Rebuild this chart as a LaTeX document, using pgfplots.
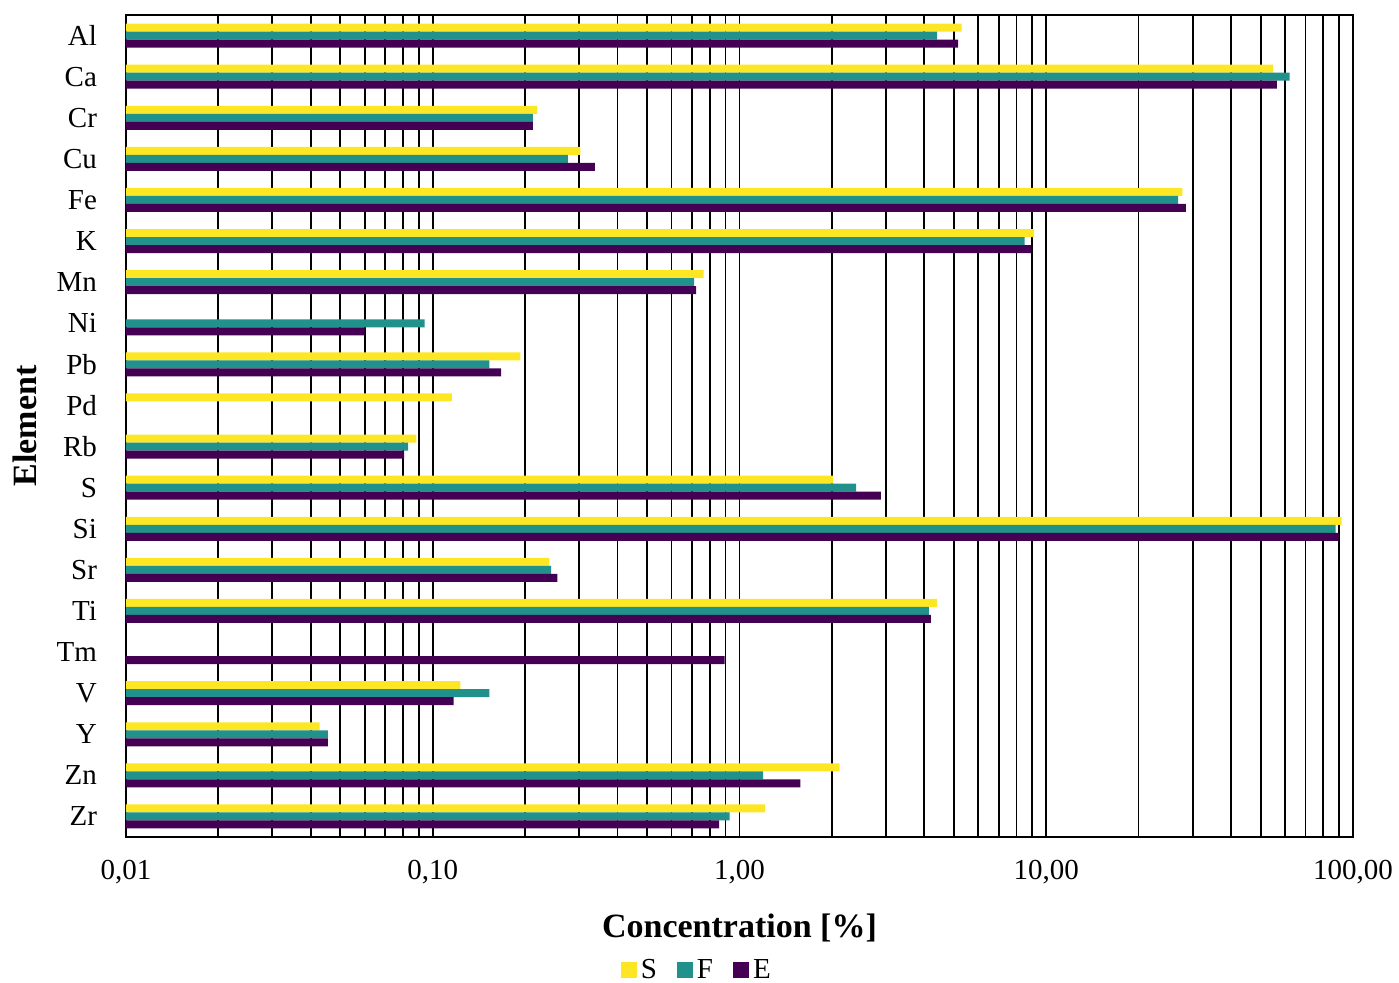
\documentclass[border=0pt]{standalone}
\usepackage{pgfplots}
\usepackage{pgfplotstable}
\usepackage{fontspec}
\setmainfont{Liberation Serif}
\pgfplotsset{compat=1.18}
\definecolor{cS}{HTML}{FDE725}
\definecolor{cF}{HTML}{21918C}
\definecolor{cE}{HTML}{440154}
\pgfplotstableread{
y S F E
0 5.30 4.41 5.16
1 54.9 62.1 56.5
2 0.219 0.212 0.212
3 0.303 0.276 0.338
4 27.8 26.9 28.5
5 9.13 8.51 8.94
6 0.764 0.712 0.722
7 nan 0.0941 0.060
8 0.193 0.153 0.167
9 0.1154 nan nan
10 0.0885 0.0831 0.0806
11 2.02 2.40 2.89
12 91.8 87.7 89.8
13 0.240 0.243 0.255
14 4.41 4.14 4.21
15 nan nan 0.895
16 0.123 0.153 0.117
17 0.0428 0.0455 0.0455
18 2.12 1.193 1.58
19 1.209 0.928 0.859
}\data
\begin{document}
\begin{tikzpicture}
\begin{axis}[
  name=ax,
  width=613.5pt, height=411pt, scale only axis,
  xmode=log, log origin=infty,
  xmin=0.01, xmax=100, ymin=-0.5, ymax=19.5, y dir=reverse,
  xbar=0pt, bar width=4pt,
  axis line style={black, line width=0.9pt},
  ytick={0,...,19},
  yticklabels={Al,Ca,Cr,Cu,Fe,K,Mn,Ni,Pb,Pd,Rb,S,Si,Sr,Ti,Tm,V,Y,Zn,Zr},
  xtick={0.01,0.1,1,10,100},
  xticklabels={{0,01},{0,10},{1,00},{10,00},{100,00}},
  minor xtick={0.02,0.03,0.04,0.05,0.06,0.07,0.08,0.09,0.2,0.3,0.4,0.5,0.6,0.7,0.8,0.9,2,3,4,5,6,7,8,9,20,30,40,50,60,70,80,90},
  xmajorgrids, xminorgrids,
  major grid style={black, line width=0.9pt},
  minor grid style={black, line width=0.9pt},
  major tick length=0pt, minor tick length=0pt,
  tick label style={font=\fontsize{14.5}{17}\selectfont},
  xticklabel style={yshift=-8pt},
  yticklabel style={xshift=-11pt},
  xlabel={Concentration [\%]},
  ylabel={Element},
  every axis x label/.style={at={(axis description cs:0.5,0)}, anchor=center, yshift=-45.5pt, font=\fontsize{17}{20}\selectfont\bfseries},
  every axis y label/.style={at={(axis description cs:0,0.5)}, xshift=-50.5pt, anchor=center, rotate=90, font=\fontsize{17}{20}\selectfont\bfseries},
  legend columns=3,
  legend style={at={(axis description cs:0.466,-0.162)}, anchor=center, draw=none, fill=none,
    font=\fontsize{14.5}{17}\selectfont,
    /tikz/every even column/.append style={column sep=8pt}},
  legend image code/.code={\fill[#1] (0pt,-4pt) rectangle (8pt,4pt);},
  clip=false,
]
\addplot[fill=cS, draw=none, bar shift=4pt] table[x=S, y=y] {\data};
\addplot[fill=cF, draw=none, bar shift=0pt] table[x=F, y=y] {\data};
\addplot[fill=cE, draw=none, bar shift=-4pt] table[x=E, y=y] {\data};
\legend{S,F,E}
\end{axis}
\pgfresetboundingbox
\path[use as bounding box] ([shift={(-63pt,-72.5pt)}]ax.south west) rectangle ([shift={(636.5pt,418.5pt)}]ax.south west);
\end{tikzpicture}
\end{document}
